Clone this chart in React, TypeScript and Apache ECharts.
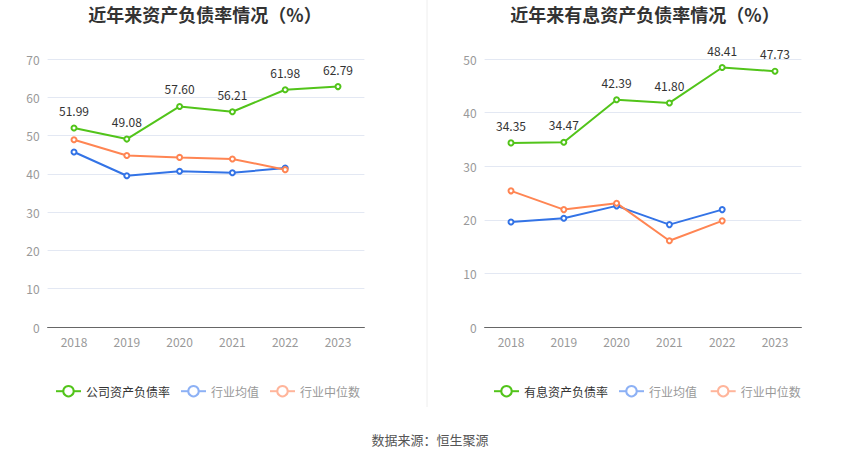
import React, { useEffect, useRef } from "react";
import * as echarts from "echarts";

const years = ["2018", "2019", "2020", "2021", "2022", "2023"];
const companyDebt = [51.99, 49.08, 57.6, 56.21, 61.98, 62.79];
const industryMeanDebt = [45.7, 39.5, 40.7, 40.3, 41.5, null];
const industryMedianDebt = [48.9, 44.8, 44.3, 43.9, 41.1, null];
const companyInterest = [34.35, 34.47, 42.39, 41.8, 48.41, 47.73];
const industryMeanInterest = [19.6, 20.3, 22.6, 19.1, 21.9, null];
const industryMedianInterest = [25.4, 21.9, 23.1, 16.1, 19.8, null];

const GREEN = "#52c41a";
const BLUE = "#3373e6";
const ORANGE = "#ff8553";

export default function App() {
  const ref = useRef<HTMLDivElement>(null);
  useEffect(() => {
    document.body.style.margin = "0";
    const chart = echarts.init(ref.current!, null, { renderer: "svg" });
    const font = "'Noto Sans CJK SC', 'Noto Sans', sans-serif";
    const xAxis = (gi: number) => ({
      type: "category",
      gridIndex: gi,
      data: years,
      boundaryGap: true,
      axisLine: { lineStyle: { color: "#666" } },
      axisTick: { alignWithLabel: true, lineStyle: { color: "#666" } },
      axisLabel: { color: "#999", fontSize: 12, margin: 8, fontFamily: font },
    });
    const yAxis = (gi: number, max: number) => ({
      type: "value",
      gridIndex: gi,
      min: 0,
      max,
      interval: 10,
      axisLine: { show: false },
      axisTick: { show: false },
      axisLabel: { color: "#999", fontSize: 12, margin: 8, fontFamily: font },
      splitLine: { lineStyle: { color: "#e3e8f3" } },
    });
    const line = (name: string, data: any[], color: string, idx: number, labels: boolean) => ({
      type: "line",
      name,
      data,
      xAxisIndex: idx,
      yAxisIndex: idx,
      symbol: "emptyCircle",
      symbolSize: 5,
      lineStyle: { color, width: 2 },
      itemStyle: { color, borderWidth: 1.5 },
      label: labels
        ? { show: true, position: "top", color: "#333", fontSize: 12, distance: 8, fontFamily: font, formatter: (p: any) => p.value.toFixed(2) }
        : { show: false },
      z: labels ? 3 : 2,
    });
    const legendItem = (name: string, color: string, textColor: string) => ({
      name,
      itemStyle: { color, borderWidth: 2 },
      lineStyle: { color, width: 2 },
      textStyle: { color: textColor },
    });
    chart.setOption({
      animation: false,
      backgroundColor: "#fff",
      title: [
        { text: "近年来资产负债率情况（%）", left: 200, top: 0, textAlign: "center", textStyle: { fontSize: 18, fontWeight: "bold", color: "#333", fontFamily: font } },
        { text: "近年来有息资产负债率情况（%）", left: 640, top: 0, textAlign: "center", textStyle: { fontSize: 18, fontWeight: "bold", color: "#333", fontFamily: font } },
        { text: "数据来源：恒生聚源", left: 425, top: 428, textAlign: "center", textStyle: { fontSize: 13, fontWeight: "normal", color: "#555", fontFamily: font } },
      ],
      legend: [
        {
          left: 50, top: 380, itemWidth: 25, itemHeight: 13, itemGap: 10,
          textStyle: { fontSize: 12, fontFamily: font },
          data: [
            legendItem("公司资产负债率", GREEN, "#333"),
            legendItem("行业均值", "#8db1f5", "#999"),
            legendItem("行业中位数", "#ffb59b", "#999"),
          ],
        },
        {
          left: 488, top: 380, itemWidth: 25, itemHeight: 13, itemGap: 10,
          textStyle: { fontSize: 12, fontFamily: font },
          data: [
            legendItem("有息资产负债率", GREEN, "#333"),
            legendItem("行业均值 ", "#8db1f5", "#999"),
            legendItem("行业中位数 ", "#ffb59b", "#999"),
          ],
        },
      ],
      grid: [
        { left: 47.6, width: 316.8, top: 59, height: 268 },
        { left: 484.6, width: 316.8, top: 59, height: 268 },
      ],
      xAxis: [xAxis(0), xAxis(1)],
      yAxis: [yAxis(0, 70), yAxis(1, 50)],
      graphic: [
        { type: "line", shape: { x1: 427, y1: 0, x2: 427, y2: 407 }, style: { stroke: "#eee", lineWidth: 1 } },
      ],
      series: [
        line("公司资产负债率", companyDebt, GREEN, 0, true),
        line("行业均值", industryMeanDebt, BLUE, 0, false),
        line("行业中位数", industryMedianDebt, ORANGE, 0, false),
        line("有息资产负债率", companyInterest, GREEN, 1, true),
        line("行业均值 ", industryMeanInterest, BLUE, 1, false),
        line("行业中位数 ", industryMedianInterest, ORANGE, 1, false),
      ],
    });
    return () => chart.dispose();
  }, []);
  return <div ref={ref} style={{ width: 850, height: 459 }} />;
}
